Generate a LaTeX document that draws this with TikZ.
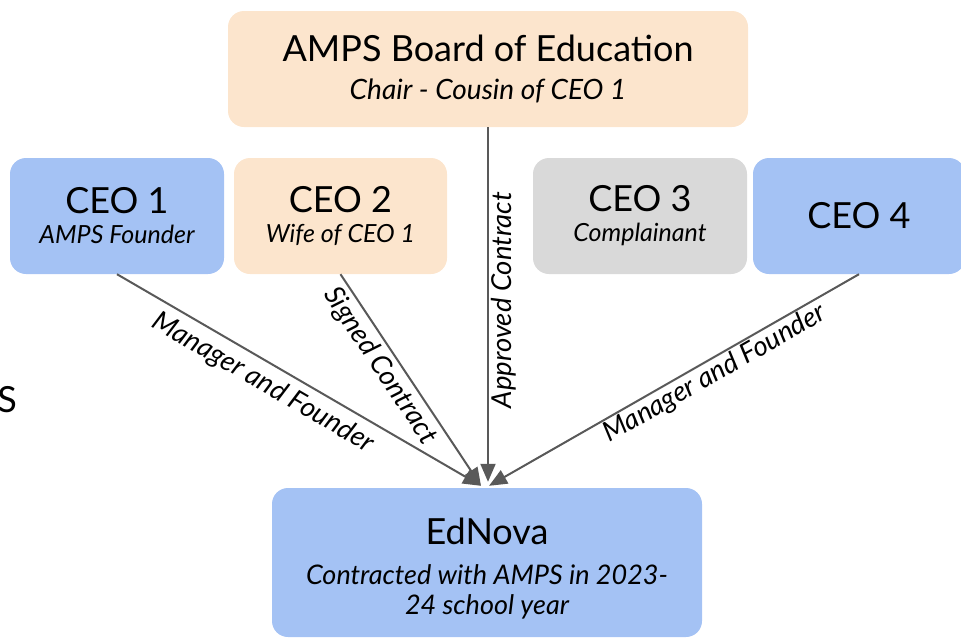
\documentclass[tikz,border=0pt]{standalone}
\usepackage{fontspec}
\setmainfont{Lato}
\usetikzlibrary{arrows.meta}
\definecolor{cblue}{HTML}{A4C2F4}
\definecolor{cpeach}{HTML}{FCE5CD}
\definecolor{cgray}{HTML}{D9D9D9}
\definecolor{cline}{HTML}{595959}
\tikzset{
  box/.style={rounded corners=16pt, inner sep=0pt, align=center, text=black},
  conn/.style={draw=cline, line width=2pt, -{Triangle[length=18pt,width=15pt]}},
  elabel/.style={font=\fontsize{27.5}{32}\selectfont\itshape, inner sep=0pt}
}
\newcommand{\ttl}[1]{{\upshape\fontsize{36}{36}\selectfont #1}}
\begin{document}
\begin{tikzpicture}[x=1pt,y=-1pt]
\useasboundingbox (0,0) rectangle (961,638);
\node[box, fill=cpeach, minimum width=520pt, minimum height=116pt,
  font=\fontsize{28}{38}\selectfont\itshape] (board) at (488,69)
  {\ttl{AMPS Board of Education}\\Chair - Cousin of CEO 1};
\node[box, fill=cblue, minimum width=214pt, minimum height=116pt,
  font=\fontsize{25}{30}\selectfont\itshape] (ceo1) at (117,216)
  {\ttl{CEO 1}\\AMPS Founder};
\node[box, fill=cpeach, minimum width=213pt, minimum height=116pt,
  font=\fontsize{25}{30}\selectfont\itshape] (ceo2) at (340.5,216)
  {\ttl{CEO 2}\\Wife of CEO 1};
\node[box, fill=cgray, minimum width=214pt, minimum height=116pt,
  font=\fontsize{25}{30}\selectfont\itshape] (ceo3) at (640,216)
  {\ttl{CEO 3}\\Complainant};
\node[box, fill=cblue, minimum width=212pt, minimum height=116pt] (ceo4) at (859,216)
  {\ttl{CEO 4}};
\node[box, fill=cblue, minimum width=430pt, minimum height=149pt,
  font=\fontsize{27}{30}\selectfont\itshape] (ednova) at (487,562.5)
  {\rule{0pt}{39pt}\ttl{EdNova}\\[10pt]Contracted with AMPS in 2023-\\24 school year};
\node[anchor=east, inner sep=0pt, font=\fontsize{36}{36}\selectfont] (frag) at (17,400) {S};

\draw[conn] (ceo1.south) -- ([xshift=-6pt,yshift=2pt]ednova.north);
\draw[conn] (ceo2.south) -- ([xshift=-6pt,yshift=2pt]ednova.north);
\draw[conn] (board.south) -- ([xshift=1pt,yshift=6pt]ednova.north);
\draw[conn] (ceo4.south) -- ([xshift=2pt,yshift=2pt]ednova.north);

\node[elabel, rotate=-30.2] (l1) at (263,383) {Manager and Founder};
\node[elabel, rotate=-56.4] (l2) at (380,366) {Signed Contract};
\node[elabel, rotate=90] (l3) at (504,300) {Approved Contract};
\node[elabel, rotate=29.7] (l4) at (715,374) {Manager and Founder};
\end{tikzpicture}
\end{document}
